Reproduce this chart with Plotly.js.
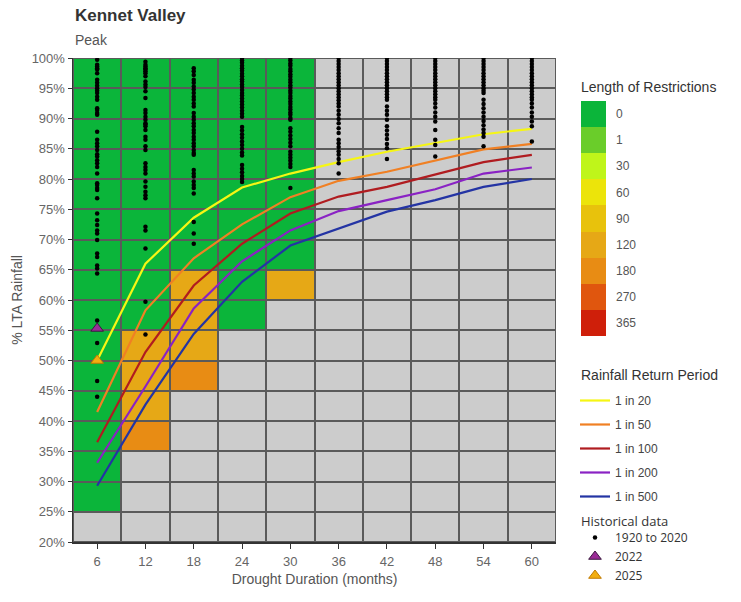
<!DOCTYPE html>
<html>
<head>
<meta charset="utf-8">
<script src="https://cdn.plot.ly/plotly-3.0.1.min.js"></script>
<style>html,body{margin:0;padding:0;background:#fff;}#chart{width:741px;height:602px;}</style>
</head>
<body>
<div id="chart"></div>
<script>
// ---------- DATA ----------
const durations = [6, 12, 18, 24, 30, 36, 42, 48, 54, 60];
const bandLow = [20, 25, 30, 35, 40, 45, 50, 55, 60, 65, 70, 75, 80, 85, 90, 95];
const restrictionLevels = ['0', '1', '30', '60', '90', '120', '180', '270', '365'];

// restriction days per duration, bands from 20% (bottom) to 95% (top); null = outside modelled range
const days6  = [null, 0, 0, 0, 0, 0, 0, 0, 0, 0, 0, 0, 0, 0, 0, 0];
const days12 = [null, null, null, 180, 120, 120, 120, 0, 0, 0, 0, 0, 0, 0, 0, 0];
const days18 = [null, null, null, null, null, 180, 120, 120, 120, 0, 0, 0, 0, 0, 0, 0];
const days24 = [null, null, null, null, null, null, null, 0, 0, 0, 0, 0, 0, 0, 0, 0];
const days30 = [null, null, null, null, null, null, null, null, 120, 0, 0, 0, 0, 0, 0, 0];
const days36 = [null, null, null, null, null, null, null, null, null, null, null, null, null, null, null, null];
const days42 = [null, null, null, null, null, null, null, null, null, null, null, null, null, null, null, null];
const days48 = [null, null, null, null, null, null, null, null, null, null, null, null, null, null, null, null];
const days54 = [null, null, null, null, null, null, null, null, null, null, null, null, null, null, null, null];
const days60 = [null, null, null, null, null, null, null, null, null, null, null, null, null, null, null, null];

// rainfall return period curves (% LTA)
const rp20  = [50.0, 66.0, 73.6, 78.6, 80.9, 82.8, 84.5, 85.9, 87.4, 88.3];
const rp50  = [41.5, 58.3, 66.9, 72.5, 77.0, 79.7, 81.2, 83.1, 84.9, 85.8];
const rp100 = [36.5, 51.4, 62.4, 69.3, 74.3, 77.1, 78.7, 80.7, 82.8, 84.0];
const rp200 = [33.1, 45.7, 58.6, 66.4, 71.5, 74.7, 76.5, 78.3, 80.9, 81.9];
const rp500 = [29.3, 42.7, 54.4, 63.0, 69.0, 71.8, 74.6, 76.5, 78.7, 80.0];

// historical droughts 1920-2020 (% LTA) per duration
const hist6  = [99.7, 98.9, 98.6, 98.3, 98.1, 97.5, 96.4, 95.9, 95.4, 95.0, 94.6, 94.2, 93.6, 93.1, 91.7, 91.4, 90.9, 90.6, 87.8, 86.5, 85.9, 85.4, 84.8, 84.1, 83.7, 83.1, 82.6, 82.0, 80.9, 79.3, 79.0, 78.5, 78.2, 76.8, 74.3, 73.2, 72.4, 71.5, 71.0, 69.9, 67.7, 67.1, 65.7, 65.2, 64.4, 56.6, 52.9, 46.6, 44.0];
const hist12 = [99.4, 98.9, 98.6, 98.3, 98.1, 97.8, 97.5, 97.0, 96.1, 95.6, 95.2, 94.5, 93.4, 91.4, 90.9, 90.3, 89.8, 89.2, 89.0, 88.7, 88.1, 87.0, 86.5, 85.4, 84.8, 82.6, 82.0, 81.5, 80.9, 79.6, 78.7, 77.9, 77.3, 76.8, 72.1, 71.5, 68.5, 59.7, 54.3];
const hist18 = [98.3, 97.8, 97.2, 96.4, 95.9, 95.3, 94.8, 94.2, 93.6, 93.1, 92.5, 92.0, 90.9, 90.3, 89.8, 89.2, 88.7, 88.1, 87.6, 87.0, 86.5, 85.9, 85.4, 84.8, 84.3, 84.0, 81.5, 80.9, 80.4, 79.6, 79.0, 78.5, 77.6, 72.9, 71.0, 69.3];
const hist24 = [100, 99.6, 99.2, 98.7, 98.3, 97.9, 97.4, 97.0, 96.5, 96.1, 95.6, 95.2, 94.7, 94.2, 93.8, 93.3, 92.8, 92.3, 91.8, 91.3, 90.8, 90.3, 88.6, 88.0, 87.4, 86.8, 86.2, 85.6, 85.0, 84.4, 83.9, 82.3, 81.7, 81.1, 80.5, 80.0, 79.5];
const hist30 = [100, 99.6, 99.1, 98.7, 98.2, 97.8, 97.3, 96.9, 96.4, 96.0, 95.5, 95.1, 94.6, 94.2, 93.7, 93.3, 92.8, 92.4, 91.9, 91.5, 91.0, 90.6, 90.1, 89.8, 88.4, 87.8, 87.2, 86.6, 86.0, 85.4, 84.5, 84.0, 83.5, 83.0, 82.5, 82.0, 78.5];
const hist36 = [100, 99.5, 99.0, 98.5, 98.0, 97.5, 97.0, 96.5, 96.0, 95.5, 95.0, 94.5, 94.0, 93.5, 93.0, 92.5, 92.0, 91.3, 90.6, 89.9, 89.2, 88.4, 87.6, 86.5, 85.9, 85.3, 84.6, 84.0, 83.3, 82.6, 80.9];
const hist42 = [100, 99.5, 99.0, 98.5, 98.0, 97.5, 97.0, 96.5, 96.0, 95.5, 95.0, 94.5, 94.0, 93.5, 93.1, 92.0, 91.3, 90.6, 89.8, 88.7, 88.0, 87.3, 86.6, 85.8, 85.1, 83.3];
const hist48 = [100, 99.5, 99.0, 98.5, 98.0, 97.5, 97.0, 96.5, 96.0, 95.5, 95.0, 94.5, 94.0, 93.5, 93.1, 92.5, 91.8, 91.0, 90.3, 89.5, 88.1, 86.5, 85.6, 83.7];
const hist54 = [100, 99.5, 99.0, 98.5, 98.0, 97.5, 97.0, 96.5, 96.0, 95.5, 95.0, 94.6, 94.2, 93.1, 92.4, 91.7, 91.0, 90.3, 89.6, 88.9, 88.2, 87.6, 87.0, 85.4];
const hist60 = [100, 99.5, 99.0, 98.5, 98.0, 97.5, 97.0, 96.5, 96.0, 95.5, 95.0, 94.5, 94.0, 93.5, 93.1, 92.5, 91.8, 91.0, 90.3, 89.5, 88.7, 86.2];

const year2022 = {x: 6, y: 55.3};
const year2025 = {x: 6, y: 50.0};

// ---------- STYLE ----------
const greyCell = '#cccccc';
const levelColors = ['#0bb53a', '#6acd2a', '#bff51a', '#ece40a', '#e8c20c', '#e6a816', '#e88c14', '#e0560e', '#cf1f0a'];
const lineColors = ['#f6f614', '#f08024', '#b01c20', '#8a22c4', '#2434a4'];

// ---------- BUILD ----------
const allColors = [greyCell].concat(levelColors);
const nC = allColors.length;
const colorscale = [];
allColors.forEach((c, i) => { colorscale.push([i / nC, c]); colorscale.push([(i + 1) / nC, c]); });

const dayCols = [days6, days12, days18, days24, days30, days36, days42, days48, days54, days60];
const toIdx = d => d === null ? 0 : restrictionLevels.indexOf(String(d)) + 1;
const bandMid = bandLow.map(v => v + 2.5);
const z = bandMid.map((_, r) => dayCols.map(col => toIdx(col[r])));

const traces = [];
traces.push({
  type: 'heatmap', x: durations, y: bandMid, z: z,
  colorscale: colorscale, zmin: -0.5, zmax: nC - 0.5, showscale: false,
  xgap: 2, ygap: 2, hoverinfo: 'skip'
});

const histCols = [hist6, hist12, hist18, hist24, hist30, hist36, hist42, hist48, hist54, hist60];
const hx = [], hy = [];
histCols.forEach((arr, i) => arr.forEach(v => { hx.push(durations[i]); hy.push(v); }));

const rps = [rp20, rp50, rp100, rp200, rp500];
const rpNames = ['1 in 20', '1 in 50', '1 in 100', '1 in 200', '1 in 500'];
rps.forEach((arr, i) => traces.push({
  type: 'scatter', mode: 'lines', x: durations, y: arr, name: rpNames[i],
  line: {color: lineColors[i], width: 2.2}, legend: 'legend', legendgroup: 'g' + i
}));

traces.push({
  type: 'scatter', mode: 'markers', x: hx, y: hy, name: '1920 to 2020',
  marker: {color: '#000', size: 4.5}, legend: 'legend2', legendgroup: 'h1'
});
traces.push({
  type: 'scatter', mode: 'markers', x: [year2022.x], y: [year2022.y], name: '2022',
  marker: {symbol: 'triangle-up', size: 11, color: '#9a2c96', line: {color: '#3b1840', width: 1}},
  legend: 'legend2', legendgroup: 'h2'
});
traces.push({
  type: 'scatter', mode: 'markers', x: [year2025.x], y: [year2025.y], name: '2025',
  marker: {symbol: 'triangle-up', size: 11, color: '#f2ae10', line: {color: '#c07a00', width: 1}},
  legend: 'legend2', legendgroup: 'h3'
});

// colour key as a small heatmap
traces.push({
  type: 'heatmap', xaxis: 'x2', yaxis: 'y2', x: ['k'], y: restrictionLevels,
  z: restrictionLevels.map((_, i) => [i + 1]),
  colorscale: colorscale, zmin: -0.5, zmax: nC - 0.5, showscale: false, hoverinfo: 'skip'
});

const W = 741, H = 602, mL = 73, mR = 10, mT = 58, mB = 60;
const pw = W - mL - mR, ph = H - mT - mB;
const px = x => (x - mL) / pw;
const py = y => (H - mB - y) / ph;

const layout = {
  width: W, height: H,
  margin: {l: mL, r: mR, t: mT, b: mB},
  paper_bgcolor: '#ffffff', plot_bgcolor: '#5a5a5a',
  font: {family: 'Liberation Sans, Arial, sans-serif', color: '#555'},
  showlegend: true,
  xaxis: {
    domain: [0, px(556)], range: [3, 63], tickvals: durations, showgrid: false, zeroline: false,
    showline: true, linecolor: '#333', linewidth: 1.5, ticks: 'outside', ticklen: 5, tickcolor: '#333',
    ticklabelstandoff: 2,
    tickfont: {size: 13, color: '#666'},
    title: {text: 'Drought Duration (months)', font: {size: 14, color: '#555'}, standoff: 6}
  },
  yaxis: {
    range: [20, 100], dtick: 5, ticksuffix: '%', showgrid: false, zeroline: false,
    showline: true, linecolor: '#333', linewidth: 1.5, ticks: 'outside', ticklen: 4, tickcolor: '#333',
    tickfont: {size: 13, color: '#666'},
    title: {text: '% LTA Rainfall', font: {size: 14, color: '#555'}, standoff: 6}
  },
  xaxis2: {domain: [px(581), px(606)], visible: false, anchor: 'y2', fixedrange: true},
  yaxis2: {
    domain: [py(336), py(101)], anchor: 'x2', type: 'category', autorange: 'reversed', side: 'right',
    showgrid: false, zeroline: false, showline: false, ticks: '', ticklabelstandoff: 9,
    tickfont: {size: 12, color: '#555'}
  },
  legend: {
    x: px(575), y: py(386), xanchor: 'left', yanchor: 'top', bgcolor: 'rgba(0,0,0,0)',
    font: {size: 12, color: '#444'}, traceorder: 'grouped', tracegroupgap: 5, itemwidth: 30
  },
  legend2: {
    x: px(575), y: py(523), xanchor: 'left', yanchor: 'top', bgcolor: 'rgba(0,0,0,0)',
    font: {size: 12, color: '#333', family: 'Open Sans, sans-serif'}, traceorder: 'grouped', tracegroupgap: 0, itemwidth: 30
  },
  annotations: [
    {text: '<b>Kennet Valley</b>', xref: 'paper', yref: 'paper', x: px(73), y: py(15), xanchor: 'left', yanchor: 'middle',
     showarrow: false, font: {size: 17, color: '#333'}},
    {text: 'Peak', xref: 'paper', yref: 'paper', x: px(73), y: py(40), xanchor: 'left', yanchor: 'middle',
     showarrow: false, font: {size: 14, color: '#555'}},
    {text: 'Length of Restrictions', xref: 'paper', yref: 'paper', x: px(579), y: py(87), xanchor: 'left', yanchor: 'middle',
     showarrow: false, font: {size: 14, color: '#333'}},
    {text: 'Rainfall Return Period', xref: 'paper', yref: 'paper', x: px(579), y: py(375), xanchor: 'left', yanchor: 'middle',
     showarrow: false, font: {size: 14, color: '#333'}},
    {text: 'Historical data', xref: 'paper', yref: 'paper', x: px(579), y: py(521), xanchor: 'left', yanchor: 'middle',
     showarrow: false, font: {size: 13, color: '#333', family: 'Open Sans, sans-serif'}}
  ]
};

Plotly.newPlot('chart', traces, layout, {displayModeBar: false, staticPlot: true});
</script>
</body>
</html>
